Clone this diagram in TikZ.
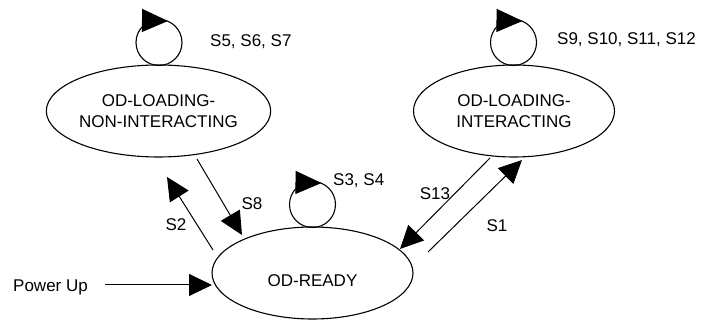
\documentclass[tikz,border=0pt]{standalone}
\usepackage{fontspec}
\setmainfont{Liberation Sans}
\usetikzlibrary{arrows.meta,calc,shapes.geometric}
\begin{document}
\begin{tikzpicture}[x=1pt,y=-1pt,
  every node/.style={font=\fontsize{17}{21}\selectfont},
  state/.style={draw,ellipse,line width=1.1pt,inner sep=0pt,minimum width=201pt,minimum height=92pt,align=center},
  loopc/.style={draw,circle,line width=1.1pt,minimum size=46pt,inner sep=0pt},
  lbl/.style={inner sep=0pt,text height=12.2pt,text depth=0pt},
  arr/.style={line width=1pt,-{Triangle[length=23pt,width=22pt]}},
  looparr/.style={line width=1pt,-{Triangle[length=26pt,width=23pt]}}]
\useasboundingbox (0,0) rectangle (702,320);

% states
\node[state] (oni) at (158.5,111) {OD-LOADING-\\NON-INTERACTING};
\node[state] (oi) at (514,111) {OD-LOADING-\\INTERACTING};
\node[state] (ready) at (312.5,273) {};
\node[lbl] (readytxt) at (312.5,280) {OD-READY};

% self loops
\node[loopc] (l1) at (159,42.5) {};
\node[loopc] (l2) at (513.5,42.5) {};
\node[loopc] (l3) at (312.5,204.5) {};
\foreach \l in {l1,l2,l3}{
  \draw[looparr] ($(\l)+(-17,-22)$) -- ($(\l)+(9,-21.5)$);
}

% labels
\node[lbl,anchor=west] (s567) at (210,40) {S5, S6, S7};
\node[lbl,anchor=west] (s912) at (557,38) {S9, S10, S11, S12};
\node[lbl,anchor=west] (s34) at (333,179) {S3, S4};
\node[lbl,anchor=west] (pu) at (13,285) {Power Up};
\node[lbl] (s2) at (176,224) {S2};
\node[lbl] (s8) at (252,203) {S8};
\node[lbl] (s13) at (435,193) {S13};
\node[lbl] (s1) at (497,225) {S1};

% transitions
\draw[arr] ($(pu.east)+(17,0)$) -- ($(ready)+(-100.5,12)$);
\draw[arr] ($(ready)+(-99.5,-23)$) -- ($(oni)+(8.5,66)$);
\draw[arr] ($(oni)+(38.5,48)$) -- ($(ready)+(-70.5,-38)$);
\draw[arr] ($(oi)+(-24,47)$) -- ($(ready)+(87.5,-24)$);
\draw[arr] ($(ready)+(115.5,-21)$) -- ($(oi)+(8,49)$);
\end{tikzpicture}
\end{document}
